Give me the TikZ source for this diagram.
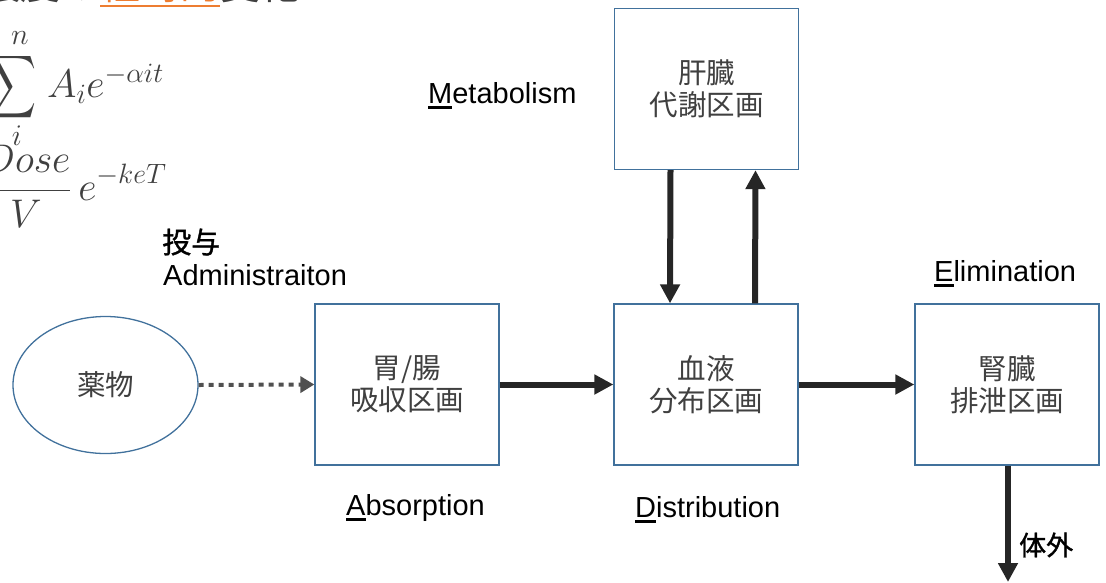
\RequirePackage{fix-cm}
\documentclass[tikz,border=0pt]{standalone}
\usepackage{fontspec}
\setmainfont{Liberation Sans}
\newfontfamily\jp{Noto Sans CJK JP}
\newfontfamily\jpm[FakeBold=1.2]{Noto Sans CJK JP}
\usetikzlibrary{arrows.meta,shapes.geometric}
\definecolor{boxblue}{HTML}{41719C}
\definecolor{txtgray}{HTML}{404040}
\definecolor{arrowblk}{HTML}{262626}
\definecolor{dotgray}{HTML}{505050}
\definecolor{orng}{HTML}{ED7D31}
\newcommand\firstul[1]{\setbox0\hbox{#1}\rlap{\rule[-6pt]{\wd0}{2.6pt}}#1}
\newcommand\orul[1]{\setbox0\hbox{#1}\rlap{\textcolor{orng}{\rule[-7.5pt]{\wd0}{2pt}}}#1}
\begin{document}
\begin{tikzpicture}[x=1pt,y=-1pt,
 comp/.style={draw=boxblue, line width=1.3pt, minimum width=184pt, minimum height=161pt,
   inner sep=0pt, align=center, text=txtgray, font=\jp\fontsize{28.5}{32}\selectfont},
 lbl/.style={font=\fontsize{29}{34}\selectfont, text=black, inner sep=0pt, anchor=base west},
 jplbl/.style={font=\jpm\fontsize{28}{32}\selectfont, text=black, inner sep=0pt, anchor=west},
 flow/.style={draw=arrowblk, line width=6pt, -{Triangle[length=19pt,width=19pt]}},
 dots/.style={draw=dotgray, line width=4pt, dash pattern=on 5pt off 5pt,
   -{Triangle[length=14pt,width=16pt,fill=dotgray]}},
 formula/.style={inner sep=0pt, anchor=base west, text=txtgray, font=\fontsize{40}{48}\selectfont},
]
\useasboundingbox (0,0) rectangle (1106,582);
\clip (0,0) rectangle (1106,582);

% top-left (cropped) title and formulas
\node[formula, font=\jp\fontsize{40}{40}\selectfont] (title) at (-20,-1)
  {濃度の\textcolor{orng}{\orul{経時的}}変化};
\node[inner sep=0pt, text=txtgray] (sigma) at (14,87) {\resizebox*{46pt}{70pt}{$\displaystyle\sum$}};
\node[formula, anchor=base, font=\fontsize{30}{30}\selectfont] (sup) at (20,44) {$n$};
\node[formula, anchor=base, font=\fontsize{30}{30}\selectfont] (sub) at (17,145) {$i$};
\node[formula] (f1) at (47,97) {$A_i e^{-\alpha it}$};
\node[formula] (f2) at (-20,200) {$\displaystyle\frac{Dose}{V}\,e^{-keT}$};

% compartments
\node[draw=boxblue, line width=1.3pt, ellipse, minimum width=185pt, minimum height=137pt,
  inner sep=0pt, text=txtgray, font=\jp\fontsize{28.5}{32}\selectfont] (drug) at (105.5,385) {薬物};
\node[comp] (gut) at (407,384.5) {胃/腸\\吸収区画};
\node[comp] (blood) at (706,384.5) {血液\\分布区画};
\node[comp] (liver) at (706.5,89) {肝臓\\代謝区画};
\node[comp] (kidney) at (1007,384.5) {腎臓\\排泄区画};
\coordinate (out) at (1008,582);

% connectors
\draw[dots] (drug.east) -- (gut.west);
\draw[flow] (gut.east) -- (blood.west);
\draw[flow] (blood.east) -- (kidney.west);
\draw[flow] ([xshift=-36pt]liver.south) -- ([xshift=-36pt]blood.north);
\draw[flow] ([xshift=49pt]blood.north) -- ([xshift=49pt]liver.south);
\draw[flow] ([xshift=1pt]kidney.south) -- (out);

% labels
\node[jplbl, font=\jpm\fontsize{29}{32}\selectfont] (admjp) at (162,242) {投与};
\node[lbl] (adm) at (163,285) {Administraiton};
\node[lbl] (met) at (428,103) {\firstul{M}etabolism};
\node[lbl] (eli) at (934,281) {\firstul{E}limination};
\node[lbl] (abs) at (346,515) {\firstul{A}bsorption};
\node[lbl] (dis) at (635,517) {\firstul{D}istribution};
\node[jplbl, font=\jpm\fontsize{27}{30}\selectfont] (ext) at (1019,545) {体外};
\end{tikzpicture}
\end{document}
